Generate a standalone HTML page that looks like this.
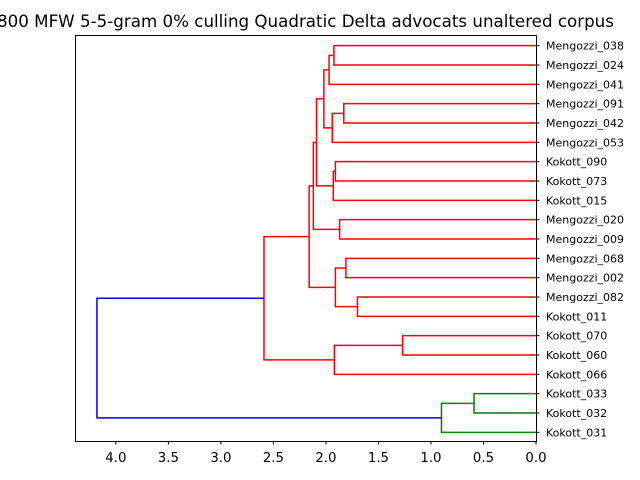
<!DOCTYPE html>
<html><head><meta charset="utf-8"><style>
html,body{margin:0;padding:0;background:#fff;}
svg{display:block;font-family:"DejaVu Sans","Liberation Sans",sans-serif;}
</style></head><body>
<svg id="chart" width="640" height="480" viewBox="0 0 640 480" xmlns="http://www.w3.org/2000/svg">
<text x="305.5" y="27" font-size="16.7" text-anchor="middle">800 MFW 5-5-gram 0% culling Quadratic Delta advocats unaltered corpus</text>
<g id="links"></g>
<rect x="75.5" y="35.5" width="461" height="406" fill="none" stroke="#000" stroke-width="1"/>
<g id="xaxis"></g>
<g id="yaxis"></g>
</svg>
<script>
const leafLabels = ["Mengozzi_038","Mengozzi_024","Mengozzi_041","Mengozzi_091","Mengozzi_042","Mengozzi_053","Kokott_090","Kokott_073","Kokott_015","Mengozzi_020","Mengozzi_009","Mengozzi_068","Mengozzi_002","Mengozzi_082","Kokott_011","Kokott_070","Kokott_060","Kokott_066","Kokott_033","Kokott_032","Kokott_031"];
const mergeA = [0,21,3,23,22,6,26,25,9,28,11,13,31,30,15,35,34,18,38,37];
const mergeB = [1,2,4,5,24,7,8,27,10,29,12,14,32,33,16,17,36,19,20,39];
const mergeH = [1.924,1.97,1.83,1.94,2.02,1.91,1.93,2.09,1.87,2.12,1.81,1.70,1.91,2.16,1.27,1.92,2.59,0.59,0.90,4.18];
const xTicks = [4.0,3.5,3.0,2.5,2.0,1.5,1.0,0.5,0.0];
const clusterColors = ["#ff0000","#008000"];
const aboveColor = "#0000ff";

const NS="http://www.w3.org/2000/svg";
const L=75, R=536, T=35, B=441;
const n=leafLabels.length;
const xmax=Math.max(...mergeH)*1.05;
const xs=v=>R-(v/xmax)*(R-L);
const ys=i=>T+1+(10*i+5)*(B-T)/(10*n);
const thr=0.7*Math.max(...mergeH);

const pos=[],hgt=[];
for(let i=0;i<n;i++){pos[i]=i;hgt[i]=0;}
const nodeColor={};
let ci=0;
function assign(node,c){
  if(node<n)return;
  const k=node-n;
  if(c===null && mergeH[k]<thr){c=clusterColors[ci%clusterColors.length];ci++;}
  nodeColor[node]=c===null?aboveColor:c;
  assign(mergeA[k],c);assign(mergeB[k],c);
}
assign(n+mergeH.length-1,null);
const g=document.getElementById('links');
for(let k=0;k<mergeH.length;k++){
  const a=mergeA[k],b=mergeB[k],node=n+k;
  pos[node]=(pos[a]+pos[b])/2;hgt[node]=mergeH[k];
  const p=document.createElementNS(NS,'path');
  const ya=ys(pos[a]),yb=ys(pos[b]),x0a=xs(hgt[a]),x0b=xs(hgt[b]),x1=xs(mergeH[k]);
  p.setAttribute('d',`M${x0a},${ya}H${x1}V${yb}H${x0b}`);
  p.setAttribute('fill','none');
  p.setAttribute('stroke',nodeColor[node]);
  p.setAttribute('stroke-width','1.5');
  
  
  g.appendChild(p);
}
const xa=document.getElementById('xaxis');
xTicks.forEach(v=>{
  const x=xs(v);
  const t=document.createElementNS(NS,'line');
  t.setAttribute('x1',x);t.setAttribute('x2',x);t.setAttribute('y1',B);t.setAttribute('y2',B+3.5);
  t.setAttribute('stroke','#000');
  
  
  xa.appendChild(t);
  const tx=document.createElementNS(NS,'text');
  tx.setAttribute('x',x);tx.setAttribute('y',B+21);tx.setAttribute('font-size','13.3');tx.setAttribute('text-anchor','middle');
  tx.textContent=v.toFixed(1);
  
  
  xa.appendChild(tx);
});
const ya=document.getElementById('yaxis');
leafLabels.forEach((lab,i)=>{
  const y=ys(i);
  const t=document.createElementNS(NS,'line');
  t.setAttribute('x1',R);t.setAttribute('x2',R+3.5);t.setAttribute('y1',y);t.setAttribute('y2',y);
  t.setAttribute('stroke','#000');
  
  
  ya.appendChild(t);
  const tx=document.createElementNS(NS,'text');
  tx.setAttribute('x',R+10);tx.setAttribute('y',y+4);tx.setAttribute('font-size','11');
  tx.textContent=lab;
  
  
  ya.appendChild(tx);
});
</script>
</body></html>
